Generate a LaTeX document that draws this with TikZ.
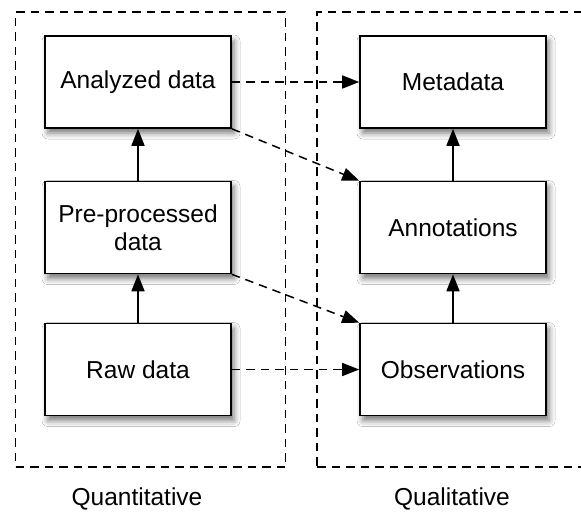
\documentclass[tikz,border=0pt]{standalone}
\usepackage{fontspec}
\setmainfont{Liberation Sans}
\usetikzlibrary{arrows.meta,shadows.blur}
\begin{document}
\begin{tikzpicture}[x=1pt,y=-1pt,
  databox/.style={draw=black, line width=1.6pt, fill=white, minimum width=186pt, minimum height=92pt,
    inner sep=0pt, align=center, font=\fontsize{24.5}{27.5}\selectfont,
    blur shadow={shadow xshift=3pt, shadow yshift=-5pt, shadow blur radius=6pt, shadow opacity=55}},
  container/.style={draw=black, line width=1.5pt, dash pattern=on 8.5pt off 6pt},
  tip/.style={-{Triangle[length=17pt,width=13pt]}},
  flow/.style={tip, line width=1.6pt},
  link/.style={tip, line width=1.5pt, dash pattern=on 8.5pt off 6pt},
  caption/.style={font=\fontsize{24.5}{27.5}\selectfont, anchor=base}
]
\path[use as bounding box, clip] (0,0) rectangle (581,512);
\fill[white] (0,0) rectangle (581,512);
% containers
\node[container, minimum width=270pt, minimum height=455pt] (quant) at (150.5,239.5) {};
\node[container, minimum width=275pt, minimum height=455pt] (qual) at (454.5,239.5) {};
% boxes
\node[databox] (analyzed) at (138,82) {Analyzed data};
\node[databox] (pre) at (138,227.5) {Pre-processed\\data};
\node[databox] (raw) at (138,369.5) {Raw data};
\node[databox] (meta) at (453,82) {Metadata};
\node[databox] (annot) at (453,227.5) {Annotations};
\node[databox] (obs) at (453,369.5) {Observations};
% solid arrows
\draw[flow] (pre.north) -- (analyzed.south);
\draw[flow] (raw.north) -- (pre.south);
\draw[flow] (annot.north) -- (meta.south);
\draw[flow] (obs.north) -- (annot.south);
% dashed links
\draw[link] (analyzed.east) -- (meta.west);
\draw[link] (analyzed.south east) -- (annot.north west);
\draw[link] (pre.south east) -- (obs.north west);
\draw[link] (raw.east) -- (obs.west);
% captions
\node[caption] (qlabel) at (137,505) {Quantitative};
\node[caption] (qllabel) at (452,505) {Qualitative};
\end{tikzpicture}
\end{document}
